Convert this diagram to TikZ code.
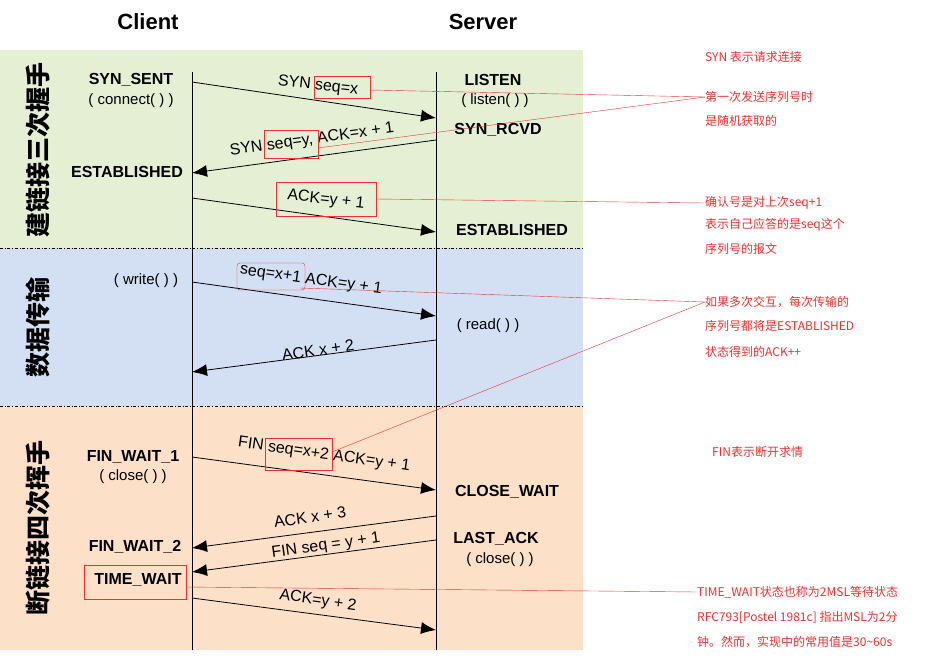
\documentclass[tikz,border=0pt]{standalone}
\usepackage{fontspec}
\setmainfont{Liberation Sans}
\newfontfamily\cjk{Noto Sans CJK SC}
\usetikzlibrary{arrows.meta}
\definecolor{bandgreen}{HTML}{E4EFD3}
\definecolor{bandblue}{HTML}{D3E0F4}
\definecolor{bandorange}{HTML}{FCE0C8}
\definecolor{note}{HTML}{F03030}
\tikzset{
    msg/.style={thick,-{Latex[length=15pt,width=12pt]}},
    state/.style={font=\fontsize{16}{18}\selectfont\bfseries,inner sep=0pt},
    call/.style={font=\fontsize{15}{17}\selectfont,inner sep=0pt},
    lbl/.style={font=\fontsize{16}{18}\selectfont,inner sep=0pt},
    redbox/.style={draw=note,thin},
    remark/.style={note,font=\cjk\fontsize{12}{14}\selectfont,anchor=west,inner sep=0pt},
    band/.style={font=\cjk\fontsize{25}{26}\selectfont\bfseries,rotate=90}
}
\begin{document}
\begin{tikzpicture}[x=1pt,y=-1pt]
    \useasboundingbox (0,0) rectangle (928,664);

    % phases
    \fill[bandgreen]  (0,50)  rectangle (583,248);
    \fill[bandblue]   (0,248) rectangle (583,406);
    \fill[bandorange] (0,406) rectangle (583,650);
    \draw[dash dot,thin] (0,248) -- (583,248);
    \draw[dash dot,thin] (0,406) -- (583,406);
    \node[band] (p1) at (38,150) {建链接三次握手};
    \node[band] (p2) at (38,327) {数据传输};
    \node[band] (p3) at (38,528) {断链接四次挥手};

    % hosts
    \node[font=\fontsize{22}{24}\selectfont\bfseries] (client) at (148,22) {Client};
    \node[font=\fontsize{22}{24}\selectfont\bfseries] (server) at (483,22) {Server};
    \coordinate (ctop) at (192,72);  \coordinate (cbot) at (192,650);
    \coordinate (stop) at (436,72);  \coordinate (sbot) at (436,650);
    \draw (ctop) -- (cbot);
    \draw (stop) -- (sbot);

    % states
    \node[state] (synsent) at (131,80) {SYN\_SENT};
    \node[call]  (connect) at (131,101) {( connect( ) )};
    \node[state] (listen) at (493,80) {LISTEN};
    \node[call]  (listenc) at (495,101) {( listen( ) )};
    \node[state] (synrcvd) at (498,130) {SYN\_RCVD};
    \node[state] (estc) at (127,172) {ESTABLISHED};
    \node[state] (ests) at (512,230) {ESTABLISHED};
    \node[call]  (write) at (146,281) {( write( ) )};
    \node[call]  (read) at (488,326) {( read( ) )};
    \node[state] (fw1) at (133,457) {FIN\_WAIT\_1};
    \node[call]  (closec) at (133,477) {( close( ) )};
    \node[state] (closewait) at (507,492) {CLOSE\_WAIT};
    \node[state] (lastack) at (496,539) {LAST\_ACK};
    \node[call]  (closes) at (500,560) {( close( ) )};
    \node[state] (fw2) at (135,547) {FIN\_WAIT\_2};
    \node[state] (timewait) at (138,580) {TIME\_WAIT};

    % messages
    \foreach \xa/\ya/\xb/\yb [count=\i] in {192/82/436/118, 436/140/192/173, 192/198/436/232,
        192/282/436/316, 436/340/192/372, 192/457/436/490, 436/516/192/548,
        436/540/192/572, 192/598/436/630}{
        \coordinate (m\i a) at (\xa,\ya);
        \coordinate (m\i b) at (\xb,\yb);
        \draw[msg] (m\i a) -- (m\i b);}

    \node[lbl,rotate=-6] (l1) at (318,86) {SYN seq=x};
    \node[lbl,rotate=8]  (l2) at (312,140) {SYN seq=y, ACK=x + 1};
    \node[lbl,rotate=-6] (l3) at (326,200) {ACK=y + 1};
    \node[lbl,rotate=-8] (l4) at (311,280) {seq=x+1 ACK=y + 1};
    \node[lbl,rotate=8]  (l5) at (318,350) {ACK x + 2};
    \node[lbl,rotate=-8] (l6) at (324,455) {FIN seq=x+2 ACK=y + 1};
    \node[lbl,rotate=8]  (l7) at (310,517) {ACK x + 3};
    \node[lbl,rotate=8]  (l8) at (326,546) {FIN seq = y + 1};
    \node[lbl,rotate=-8] (l9) at (318,601) {ACK=y + 2};

    % remarks
    \draw[redbox] (314,76) rectangle (370,98);
    \draw[redbox] (264,130) rectangle (318,158);
    \draw[redbox] (276,182) rectangle (376,216);
    \draw[redbox,rounded corners=3pt] (237,263) rectangle (305,290);
    \draw[redbox] (265,438) rectangle (332,470);
    \draw[redbox] (84,565) rectangle (186,599);

    \node[remark] (r1) at (705,57) {SYN 表示请求连接};
    \node[remark] (r2) at (705,97) {第一次发送序列号时};
    \node[remark] (r3) at (705,121) {是随机获取的};
    \node[remark] (r4) at (705,203) {确认号是对上次seq+1};
    \node[remark] (r5) at (705,225) {表示自己应答的是seq这个};
    \node[remark] (r6) at (705,249) {序列号的报文};
    \node[remark] (r7) at (705,302) {如果多次交互，每次传输的};
    \node[remark] (r8) at (705,326) {序列号都将是ESTABLISHED};
    \node[remark] (r9) at (705,352) {状态得到的ACK++};
    \node[remark] (r10) at (712,452) {FIN表示断开求情};
    \node[remark] (r11) at (697,592) {TIME\_WAIT状态也称为2MSL等待状态};
    \node[remark] (r12) at (697,617) {RFC793[Postel 1981c] 指出MSL为2分};
    \node[remark] (r13) at (697,642) {钟。然而，实现中的常用值是30\textasciitilde60s};

    \draw[note,thin] (370,90) -- (r2.west);
    \draw[note,thin] (318,148) -- (r2.west);
    \draw[note,thin] (376,199) -- (r4.west);
    \draw[note,thin] (300,288) -- (r7.west);
    \draw[note,thin] (332,452) -- (r7.west);
    \draw[note,thin] (186,587) -- (r11.west);
\end{tikzpicture}
\end{document}
